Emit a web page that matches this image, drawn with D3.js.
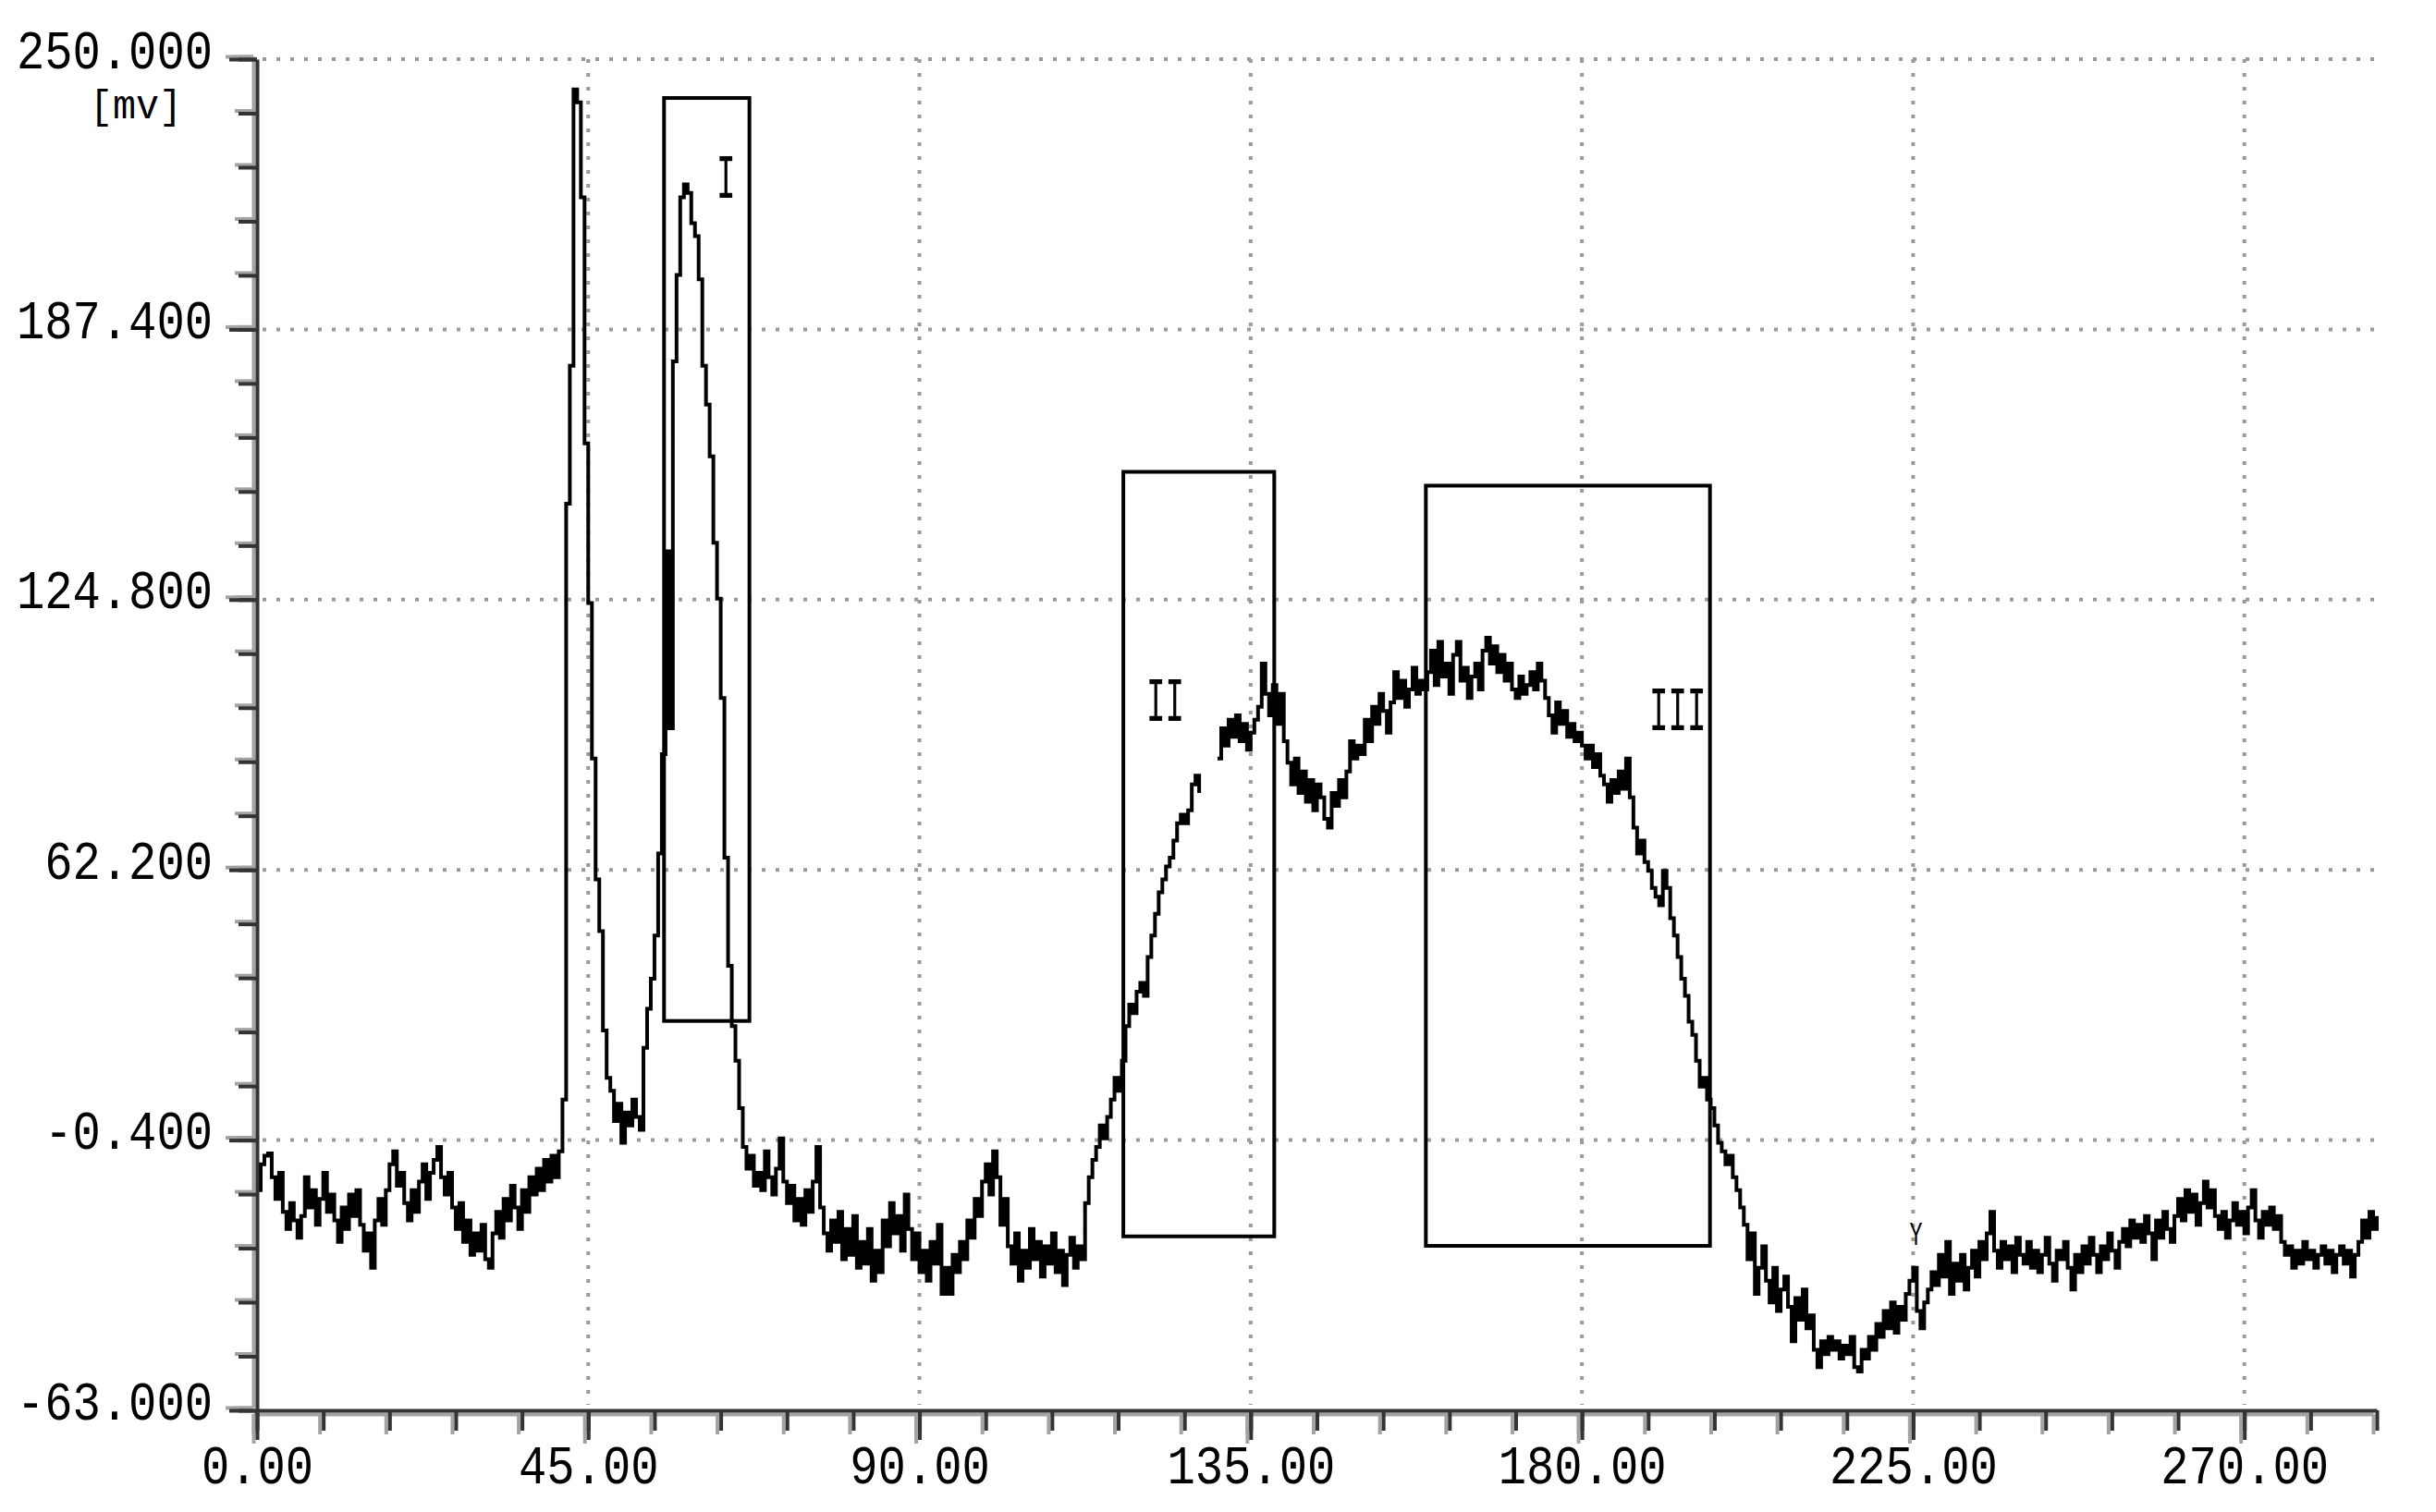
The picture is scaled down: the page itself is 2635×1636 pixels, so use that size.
<!DOCTYPE html>
<html>
<head>
<meta charset="utf-8">
<script src="https://cdn.jsdelivr.net/npm/d3@7"></script>
<style>
body { margin: 0; background: #fff; }
svg text { font-family: "Liberation Mono", "DejaVu Sans Mono", monospace; }
</style>
</head>
<body>
<div id="chart"></div>
<script>
(function () {

// tick labels
var yTicks = [-63, -0.4, 62.2, 124.8, 187.4, 250];
var xTicks = [0, 45, 90, 135, 180, 225, 270];
var xEnd = 288;

// detector trace, one reading every 0.5 s, null = gap in the record
var sampleStep = 0.5;
var signal = [
  -12,
  -6, -4, -3.5, -9, -14, -8, -17, -21, -15, -19, -23, -18, -9, -16, -12, -20, -14, -8, -17, -13,
  -19, -24, -16, -21, -13, -18, -12, -20, -26, -22, -30, -19, -14, -20, -12, -6, -3, -11, -8, -15,
  -19, -12, -17, -10, -6, -14, -8, -5, -2, -9, -13, -8, -16, -21, -15, -24, -19, -27, -22, -26,
  -20, -28, -30, -22, -17, -23, -14, -19, -11, -16, -21, -12, -17, -9, -13, -7, -12, -5, -10, -4,
  -9, -3, 9, 147, 179, 243, 240, 218, 161, 124, 88, 60, 48, 25, 14, 11, 4, 8, -1, 6,
  3, 9, 5, 2, 21, 30, 37, 47, 66, 89, 136, 95, 180, 200, 218, 221, 219, 212, 209, 199,
  179, 170, 158, 138, 125, 102, 65, 40, 26, 18, 7, -2, -7, -4, -11, -8, -12, -3, -9, -13,
  -7, 0, -10, -15, -11, -19, -14, -20, -12, -17, -10, -2, -16, -22, -26, -19, -24, -17, -28, -21,
  -27, -18, -30, -24, -29, -21, -33, -26, -31, -19, -25, -15, -22, -18, -26, -13, -21, -28, -22, -31,
  -26, -33, -24, -29, -20, -36, -30, -36, -27, -31, -24, -28, -19, -23, -14, -18, -10, -6, -13, -3,
  -9, -20, -14, -25, -29, -22, -33, -26, -30, -21, -28, -24, -32, -25, -29, -22, -31, -26, -34, -27,
  -23, -30, -25, -28, -15, -9, -5, -2, 3, 0, 5, 9, 14, 11, 18, 26, 31, 29, 34, 36,
  33, 42, 47, 52, 57, 60, 63, 65, 69, 73, 75, 73, 76, 82, 84, 80, null, null, null, null,
  88, 95, 91, 97, 93, 98, 92, 96, 90, 94, 97, 100, 110, 103, 98, 105, 96, 103, 92, 87,
  82, 88, 80, 85, 78, 83, 76, 82, 79, 74, 72, 80, 77, 83, 79, 85, 92, 88, 91, 89,
  97, 92, 100, 96, 103, 99, 94, 101, 108, 102, 106, 100, 104, 109, 103, 106, 104, 108, 113, 105,
  115, 107, 110, 103, 112, 115, 106, 109, 102, 107, 110, 104, 113, 116, 110, 114, 108, 112, 106, 110,
  104, 102, 107, 103, 105, 108, 104, 110, 106, 102, 98, 94, 101, 96, 99, 93, 96, 92, 94, 91,
  88, 91, 86, 89, 84, 82, 78, 83, 80, 85, 81, 88, 79, 72, 66, 69, 64, 62, 58, 56,
  54, 62, 58, 51, 47, 42, 37, 33, 27, 24, 18, 12, 14, 9, 7, 3, -1, -3, -6, -4,
  -9, -12, -16, -20, -28, -22, -36, -30, -25, -33, -38, -30, -40, -35, -32, -39, -47, -37, -42, -35,
  -44, -41, -49, -53, -47, -50, -46, -49, -47, -51, -48, -50, -46, -53, -54, -49, -51, -46, -49, -43,
  -46, -40, -44, -38, -45, -39, -42, -36, -33, -30, -40, -44, -38, -35, -31, -34, -27, -32, -24, -36,
  -29, -33, -27, -35, -30, -26, -32, -24, -28, -22, -17, -26, -30, -24, -28, -25, -31, -23, -27, -29,
  -24, -30, -26, -31, -27, -23, -29, -33, -26, -28, -24, -30, -35, -27, -31, -25, -29, -23, -27, -31,
  -25, -28, -22, -26, -30, -24, -21, -25, -19, -23, -20, -24, -18, -22, -28, -19, -23, -17, -21, -24,
  -18, -14, -19, -12, -17, -13, -20, -15, -10, -16, -12, -18, -21, -17, -23, -19, -15, -20, -17, -22,
  -16, -12, -19, -23, -17, -20, -16, -21, -18, -24, -27, -25, -30, -26, -29, -24, -28, -26, -30, -27,
  -25, -29, -26, -31, -27, -25, -29, -26, -32, -27, -24, -19, -23, -17, -21, -18
];

// marked peak windows
var boxNames  = ["I", "II", "III"];
var boxLeft   = [55.3, 117.7, 158.8];
var boxRight  = [66.9, 138.2, 197.4];
var boxTop    = [241.0, 154.4, 151.2];
var boxBottom = [27.2, -22.7, -24.9];
var nameX     = [63.7, 123.4, 193.0];
var nameY     = [217.9, 96.7, 94.6];

// stray marker on the trace
var markX = [225.4];
var markY = [-24.7];

var width = 2635,
    height = 1636;

var x = d3.scaleLinear()
    .domain([0, xEnd])
    .range([278, 2571]);

var y = d3.scaleLinear()
    .domain([yTicks[0], yTicks[yTicks.length - 1]])
    .range([1526, 64]);

var svg = d3.select("#chart").append("svg")
    .attr("width", width)
    .attr("height", height)
    .style("display", "block")
    .style("background", "#fff");

// minor ticks: 5 per y interval, every 9 s on x
var yMinor = [];
for (var i = 0; i < yTicks.length - 1; i++) {
	var step = (yTicks[i + 1] - yTicks[i]) / 5;
	for (var k = 0; k < 5; k++) yMinor.push(yTicks[i] + k * step);
}
yMinor.push(yTicks[yTicks.length - 1]);
var xMinor = d3.range(0, xEnd + 0.1, 9);

// dotted grid
var grid = svg.append("g")
    .attr("stroke", "#9a9a9a")
    .attr("stroke-width", 4)
    .attr("stroke-dasharray", "4,11");

grid.selectAll(".hgrid")
    .data(yTicks.slice(1))
    .enter().append("line")
    .attr("class", "hgrid")
    .attr("x1", x(0) + 6)
    .attr("x2", x(xEnd))
    .attr("y1", function (d) { return y(d); })
    .attr("y2", function (d) { return y(d); });

grid.selectAll(".vgrid")
    .data(xTicks.slice(1))
    .enter().append("line")
    .attr("class", "vgrid")
    .attr("x1", function (d) { return x(d); })
    .attr("x2", function (d) { return x(d); })
    .attr("y1", y(yTicks[yTicks.length - 1]))
    .attr("y2", y(yTicks[0]) - 6);

// trace
var points = signal.map(function (v, i) {
	return {t: i * sampleStep, v: v};
});

var line = d3.line()
    .defined(function (d) { return d.v !== null; })
    .x(function (d) { return x(d.t); })
    .y(function (d) { return y(d.v); })
    .curve(d3.curveStepAfter);

svg.append("path")
    .attr("d", line(points))
    .attr("fill", "none")
    .attr("stroke", "#000")
    .attr("stroke-width", 4);

svg.selectAll(".mark")
    .data(markX)
    .enter().append("text")
    .attr("class", "mark")
    .attr("x", function (d) { return x(d); })
    .attr("y", function (d, i) { return y(markY[i]); })
    .attr("text-anchor", "middle")
    .attr("font-size", 36)
    .attr("textLength", 14)
    .attr("lengthAdjust", "spacingAndGlyphs")
    .attr("fill", "#000")
    .text("Y");

// boxes
svg.selectAll(".box")
    .data(boxNames)
    .enter().append("rect")
    .attr("class", "box")
    .attr("x", function (d, i) { return x(boxLeft[i]); })
    .attr("y", function (d, i) { return y(boxTop[i]); })
    .attr("width", function (d, i) { return x(boxRight[i]) - x(boxLeft[i]); })
    .attr("height", function (d, i) { return y(boxBottom[i]) - y(boxTop[i]); })
    .attr("fill", "none")
    .attr("stroke", "#000")
    .attr("stroke-width", 4);

svg.selectAll(".boxName")
    .data(boxNames)
    .enter().append("text")
    .attr("class", "boxName")
    .attr("x", function (d, i) { return x(nameX[i]); })
    .attr("y", function (d, i) { return y(nameY[i]); })
    .attr("text-anchor", "middle")
    .attr("font-size", 68)
    .attr("textLength", function (d) { return d.length * 20.5; })
    .attr("lengthAdjust", "spacingAndGlyphs")
    .attr("fill", "#000")
    .text(function (d) { return d; });

// axes: dark line with a grey shadow line beside it
function styleAxis(g, color) {
	g.selectAll("line, path")
	    .attr("stroke", color)
	    .attr("stroke-width", 4);
}

function yAxisLayer(dx, dy, color, withText) {
	var layer = svg.append("g")
	    .attr("transform", "translate(" + (x(0) + dx) + "," + dy + ")");

	layer.append("g")
	    .call(d3.axisLeft(y).tickValues(yMinor).tickSize(20).tickSizeOuter(0).tickFormat(""));

	var major = layer.append("g")
	    .call(d3.axisLeft(y).tickValues(yTicks).tickSize(30).tickSizeOuter(0).tickPadding(18)
	        .tickFormat(function (d) { return withText ? d.toFixed(3) : ""; }));
	major.select(".domain").remove();

	styleAxis(layer, color);

	major.selectAll("text")
	    .attr("dy", null)
	    .attr("y", 9)
	    .attr("font-size", 60)
	    .attr("fill", "#000")
	    .attr("textLength", function (d) { return d.toFixed(3).length * 30.3; })
	    .attr("lengthAdjust", "spacingAndGlyphs");
}

function xAxisLayer(dx, dy, color, withText) {
	var layer = svg.append("g")
	    .attr("transform", "translate(" + dx + "," + (y(yTicks[0]) + dy) + ")");

	layer.append("g")
	    .call(d3.axisBottom(x).tickValues(xMinor).tickSize(22).tickSizeOuter(0).tickFormat(""));

	var major = layer.append("g")
	    .call(d3.axisBottom(x).tickValues(xTicks).tickSize(32).tickSizeOuter(0)
	        .tickFormat(function (d) { return withText ? d.toFixed(2) : ""; }));
	major.select(".domain").remove();

	styleAxis(layer, color);

	major.selectAll("text")
	    .attr("dy", null)
	    .attr("y", 79)
	    .attr("font-size", 60)
	    .attr("fill", "#000")
	    .attr("textLength", function (d) { return d.toFixed(2).length * 30.3; })
	    .attr("lengthAdjust", "spacingAndGlyphs");
}

yAxisLayer(-4, -3, "#a3a3a3", false);
xAxisLayer(-4, 4, "#a3a3a3", false);
yAxisLayer(0, 0, "#333", true);
xAxisLayer(0, 0, "#333", true);

// unit
svg.append("text")
    .attr("x", 147)
    .attr("y", 128)
    .attr("text-anchor", "middle")
    .attr("font-size", 44)
    .attr("textLength", 100)
    .attr("lengthAdjust", "spacingAndGlyphs")
    .attr("fill", "#000")
    .text("[mv]");

}).call(this);
</script>
</body>
</html>
